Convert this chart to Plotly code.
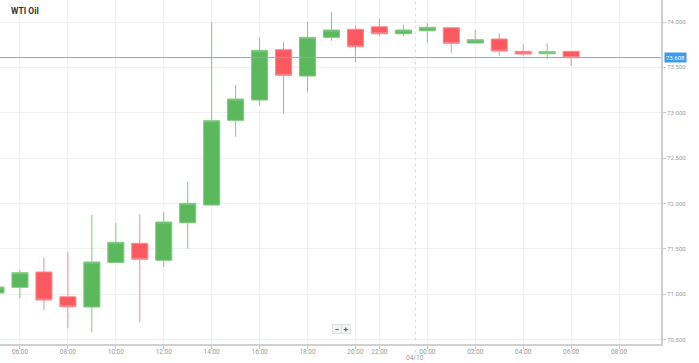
import plotly.graph_objects as go

title = "WTI Oil"
times = [
    "2019-04-09 05:00", "2019-04-09 06:00", "2019-04-09 07:00", "2019-04-09 08:00",
    "2019-04-09 09:00", "2019-04-09 10:00", "2019-04-09 11:00", "2019-04-09 12:00",
    "2019-04-09 13:00", "2019-04-09 14:00", "2019-04-09 15:00", "2019-04-09 16:00",
    "2019-04-09 17:00", "2019-04-09 18:00", "2019-04-09 19:00", "2019-04-09 20:00",
    "2019-04-09 22:00", "2019-04-09 23:00", "2019-04-10 00:00", "2019-04-10 01:00",
    "2019-04-10 02:00", "2019-04-10 03:00", "2019-04-10 04:00", "2019-04-10 05:00",
    "2019-04-10 06:00",
]
opens = [71.012, 71.075, 71.244, 70.971, 70.858, 71.350, 71.560, 71.373, 71.787, 71.982,
         72.916, 73.140, 73.695, 73.405, 73.831, 73.920, 73.948, 73.871, 73.904, 73.937,
         73.768, 73.813, 73.677, 73.650, 73.677]
highs = [71.078, 71.266, 71.401, 71.467, 71.875, 71.787, 71.880, 71.905, 72.236, 73.997,
         73.305, 73.831, 73.783, 74.000, 74.110, 73.959, 74.033, 73.967, 73.986, 73.948,
         73.912, 73.875, 73.754, 73.765, 73.677]
lows = [71.012, 70.954, 70.825, 70.623, 70.579, 71.345, 70.692, 71.302, 71.501, 71.975,
        72.735, 73.077, 72.993, 73.225, 73.794, 73.562, 73.846, 73.846, 73.772, 73.662,
        73.768, 73.628, 73.628, 73.589, 73.518]
closes = [71.078, 71.236, 70.935, 70.861, 71.354, 71.571, 71.384, 71.795, 72.001, 72.912,
          73.151, 73.688, 73.412, 73.831, 73.912, 73.728, 73.871, 73.912, 73.942, 73.765,
          73.805, 73.680, 73.647, 73.673, 73.608]
day_label = "04/10"
day_sep = "2019-04-09 23:30"
x_range = ["2019-04-09 05:10", "2019-04-10 09:45"]
y_range = [70.450, 74.243]
y_ticks = [70.5, 71.0, 71.5, 72.0, 72.5, 73.0, 73.5, 74.0]

last_price = closes[-1]

PLOT_W, PLOT_H = 661, 344

fig = go.Figure()
fig.add_trace(go.Candlestick(
    x=times, open=opens, high=highs, low=lows, close=closes,
    increasing=dict(fillcolor="#5cb85c", line=dict(color="#7fcb7f", width=1)),
    decreasing=dict(fillcolor="#fa5a5f", line=dict(color="#fb8a8e", width=1)),
    whiskerwidth=0, showlegend=False, hoverinfo="skip",
))

# current price line
fig.add_hline(y=last_price, line=dict(color="#6fb0ea", width=1))

# day separator
fig.add_shape(type="line", xref="x", yref="paper", x0=day_sep, x1=day_sep,
              y0=-0.025, y1=1, line=dict(color="#dadada", width=1, dash="dot"))

fig.add_annotation(x=day_sep, y=-(358 - PLOT_H) / PLOT_H, xref="x", yref="paper",
                   text=day_label, showarrow=False, yanchor="middle",
                   font=dict(size=6.5, color="#999999"))

# title
fig.add_annotation(x=9 / PLOT_W, y=1 - 11 / PLOT_H, xref="paper", yref="paper",
                   text="<b>" + title + "</b>",
                   showarrow=False, xanchor="left", yanchor="middle",
                   font=dict(size=8.5, color="#333333", family="Roboto"))

# price label on axis
fig.add_annotation(x=1.0, y=last_price, xref="paper", yref="y",
                   text="%.3f" % last_price, showarrow=False, xanchor="left", yanchor="middle",
                   xshift=3, bgcolor="#3d9be9", font=dict(size=6, color="#ffffff"),
                   borderpad=1)

# zoom buttons
for txt, px in (("\u2212", 337), ("+", 346)):
    fig.add_annotation(x=px / PLOT_W, y=(PLOT_H - 334) / PLOT_H, xref="paper", yref="paper",
                       text="<b>" + txt + "</b>", showarrow=False, bgcolor="#f4f4f4",
                       bordercolor="#e0e0e0", borderwidth=1, borderpad=0,
                       font=dict(size=8, color="#555555"), width=8, height=8)

fig.update_layout(
    width=699, height=363,
    margin=dict(l=0, r=38, t=0, b=19),
    paper_bgcolor="#ffffff", plot_bgcolor="#ffffff",
    font=dict(family="Roboto", size=7, color="#888888"),
    boxgap=0.33, boxgroupgap=0,
    xaxis=dict(
        type="date", range=x_range,
        rangebreaks=[dict(pattern="hour", bounds=[20.5, 21.5])],
        rangeslider=dict(visible=False),
        tickformat="%H:%M", dtick=7200000, tick0="2019-04-09 00:00",
        showgrid=True, gridcolor="#f0f0f0", gridwidth=1,
        showline=True, linecolor="#d0d0d0", linewidth=2,
        ticks="outside", ticklen=3, tickcolor="#c8c8c8",
        ticklabelstandoff=-3,
        tickfont=dict(size=6.5, color="#999999"),
        fixedrange=True, zeroline=False,
    ),
    yaxis=dict(
        side="right", range=y_range, tickvals=y_ticks, tickformat=".3f",
        showgrid=True, gridcolor="#f0f0f0", gridwidth=1,
        showline=True, linecolor="#d0d0d0", linewidth=2,
        ticks="outside", ticklen=3, tickcolor="#c8c8c8",
        tickfont=dict(size=6, color="#999999"),
        zeroline=False, fixedrange=True,
    ),
)

fig.write_html("out.html", config={"displayModeBar": False},
               post_script="document.body.style.margin='0';document.body.style.overflow='hidden';")
